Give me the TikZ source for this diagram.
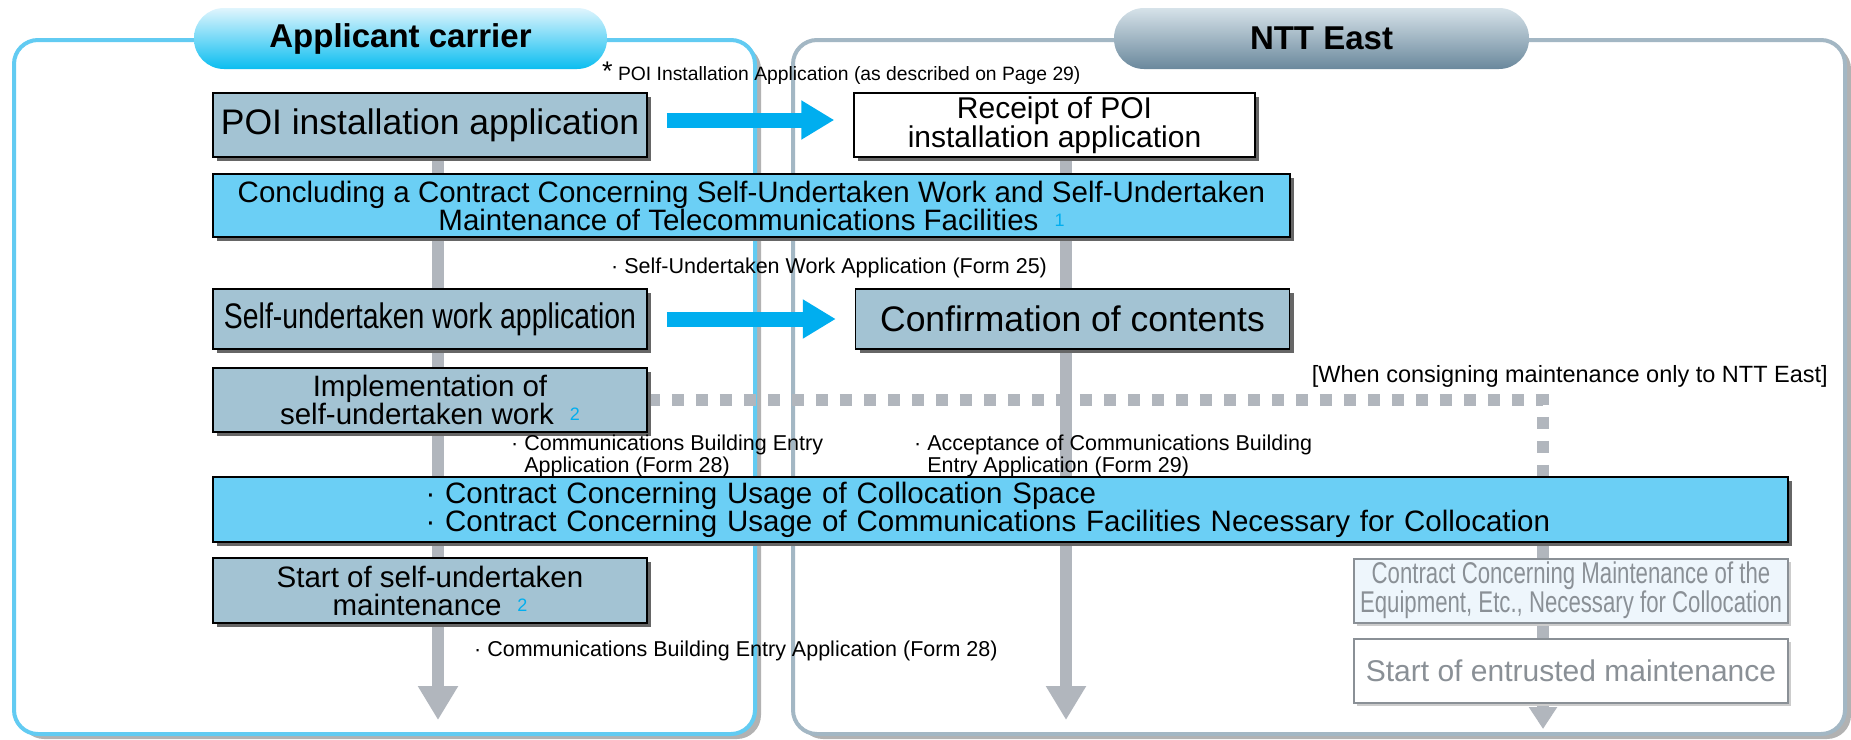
\documentclass[tikz,border=0pt]{standalone}
\usepackage{fontspec}
\setmainfont{Liberation Sans}
\newfontfamily\narrowfont[FakeStretch=0.74]{Liberation Sans}
\newfontfamily\semifont[FakeStretch=0.8]{Liberation Sans}
\usetikzlibrary{arrows.meta,shadows,positioning,calc}
\definecolor{boxgray}{HTML}{A3C3D3}
\definecolor{boxcyan}{HTML}{6BCFF5}
\definecolor{flowblue}{HTML}{00AEEF}
\definecolor{linegray}{HTML}{B1B6BD}
\definecolor{panelblue}{HTML}{62CBF2}
\definecolor{panelgray}{HTML}{A3B7C4}
\definecolor{fadetext}{HTML}{8A9096}
\definecolor{fadefill}{HTML}{EEF6FC}
\definecolor{hdrlefttop}{HTML}{E0F5FD}
\definecolor{hdrleftbot}{HTML}{0ABDF0}
\definecolor{hdrrighttop}{HTML}{D6E2E9}
\definecolor{hdrrightbot}{HTML}{6A889C}
\newcommand{\supnum}[1]{\hspace{16pt}{\color{flowblue}\fontsize{18}{18}\selectfont\raisebox{4pt}{#1}}}
\pgfdeclarelayer{bg}
\pgfdeclarelayer{flow}
\pgfsetlayers{bg,flow,main}

\begin{document}
\begin{tikzpicture}[x=1pt,y=-1pt,
    procbox/.style={draw=black,line width=1.5pt,fill=boxgray,inner sep=0pt,align=center,
        minimum height=64pt,drop shadow={shadow xshift=4pt,shadow yshift=-4pt,fill=black!60,opacity=1}},
    fadebox/.style={draw=fadetext,line width=2pt,fill=fadefill,text=fadetext,inner sep=0pt,align=center,
        minimum height=64pt,drop shadow={shadow xshift=3pt,shadow yshift=-3pt,fill=black!20,opacity=1}},
    hdr/.style={rounded corners=30pt,minimum height=61pt,inner sep=0pt,font=\fontsize{33}{33}\selectfont\bfseries},
    panel/.style={rounded corners=24pt,line width=4pt,fill=white,
        drop shadow={shadow xshift=6pt,shadow yshift=-5pt,fill=black!30,opacity=1}},
    note/.style={inner sep=0pt,anchor=base west,align=left,font=\fontsize{21.5}{20}\selectfont},
    bigtext/.style={font=\fontsize{35.5}{38}\selectfont},
    midtext/.style={font=\fontsize{29.5}{28}\selectfont},
    bluearrow/.style={flowblue,line width=15pt,-{Triangle[width=37pt,length=33pt]},shorten <=19pt,shorten >=19pt},
    grayarrow/.style={linegray,line width=12pt,-{Triangle[width=38pt,length=34pt]}},
    grayline/.style={linegray,line width=12pt},
    graydash/.style={linegray,line width=12pt,dash pattern=on 12pt off 12pt}]
    \useasboundingbox (0,0) rectangle (1851,739);

    % panels and headers
    \begin{pgfonlayer}{bg}
        \draw[panel,draw=panelblue] (14,40) rectangle (755,734);
        \draw[panel,draw=panelgray] (793,40) rectangle (1845,734);
        \node[hdr,top color=hdrlefttop,bottom color=hdrleftbot,minimum width=413pt] (hdrleft) at (400.5,38.5) {Applicant carrier};
        \node[hdr,top color=hdrrighttop,bottom color=hdrrightbot,minimum width=415pt] (hdrright) at (1321.5,38.5) {NTT East};
    \end{pgfonlayer}

    % steps
    \node[procbox,bigtext,minimum width=434pt] (poi) at (430,125) {POI installation application};
    \node[procbox,fill=white,minimum width=401pt,font=\fontsize{30}{27}\selectfont] (receipt) at (1054.5,125) {Receipt of POI\\installation application};
    \node[procbox,fill=boxcyan,midtext,minimum width=1077pt,minimum height=63pt] (concl) at (751.5,205.5)
        {Concluding a Contract Concerning Self-Undertaken Work and Self-Undertaken\\Maintenance of Telecommunications Facilities\supnum{1}};
    \node[procbox,font=\semifont\fontsize{35.5}{38}\selectfont,minimum width=434pt,minimum height=60pt] (selfapp) at (430,319) {Self-undertaken work application};
    \node[procbox,bigtext,minimum width=434pt,minimum height=60pt] (confirm) at (1072.5,319) {Confirmation of contents};
    \node[procbox,midtext,minimum width=434pt] (impl) at (430,400) {Implementation of\\self-undertaken work\supnum{2}};
    \node[procbox,fill=boxcyan,midtext,align=left,text width=1150pt,minimum width=1575pt,minimum height=65pt] (contract) at (1000.5,509.5)
        {· Contract Concerning Usage of Collocation Space\\· Contract Concerning Usage of Communications Facilities Necessary for Collocation};
    \node[procbox,midtext,minimum width=434pt,minimum height=65pt] (startself) at (430,590.5) {Start of self-undertaken\\maintenance\supnum{2}};
    \node[fadebox,minimum width=434pt,font=\narrowfont\fontsize{30}{25}\selectfont] (maint) at (1571,590.5)
        {Contract Concerning Maintenance of the\\Equipment, Etc., Necessary for Collocation};
    \node[fadebox,fill=white,line width=1.5pt,minimum width=434pt,font=\fontsize{30}{30}\selectfont] (entrust) at (1571,671) {Start of entrusted maintenance};

    % notes
    \node[note,font=\fontsize{19.3}{19}\selectfont] (poinote) at (602,80) {{\fontsize{27}{27}\selectfont *} POI Installation Application (as described on Page 29)};
    \node[note] (formtf) at (611,273) {· Self-Undertaken Work Application (Form 25)};
    \node[note,anchor=base east,font=\fontsize{23.5}{23}\selectfont] (consign) at (1828,382) {[When consigning maintenance only to NTT East]};
    \node[note] (entryapp) at (511,472) {· Communications Building Entry\\\phantom{· }Application (Form 28)};
    \node[note] (entryok) at (914,472) {· Acceptance of Communications Building\\\phantom{· }Entry Application (Form 29)};
    \node[note] (entrymaint) at (474,656) {· Communications Building Entry Application (Form 28)};

    % flow lines
    \coordinate (lend) at (438,720);
    \coordinate (mend) at (1066,720);
    \coordinate (rend) at (1543,729);
    \begin{pgfonlayer}{flow}
        \draw[grayarrow] (lend |- poi.south) -- (lend);
        \draw[grayarrow] (mend |- receipt.south) -- (mend);
        \draw[graydash] (impl.east) -| (rend |- contract.north);
        \draw[grayline] (rend |- contract.south) -- (rend |- maint.north);
        \draw[grayline] (rend |- maint.south) -- (rend |- entrust.north);
        \draw[linegray,line width=12pt,-{Triangle[width=27pt,length=22pt]}] (rend |- entrust.south) -- (rend);
    \end{pgfonlayer}
    \draw[bluearrow] ([yshift=5pt]poi.east) -- ([yshift=5pt]receipt.west);
    \draw[bluearrow] (selfapp.east) -- (confirm.west);
\end{tikzpicture}
\end{document}
